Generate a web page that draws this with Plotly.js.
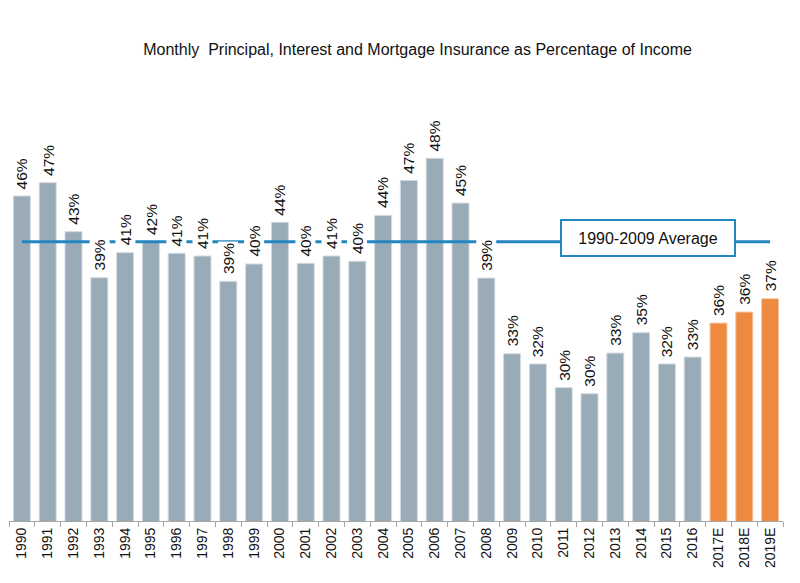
<!DOCTYPE html>
<html>
<head>
<meta charset="utf-8">
<script src="https://cdn.plot.ly/plotly-3.0.1.min.js"></script>
<style>html,body{margin:0;padding:0;background:#fff;}#chart{width:800px;height:583px;}</style>
</head>
<body>
<div id="chart"></div>
<script>
var categories = ["1990","1991","1992","1993","1994","1995","1996","1997","1998","1999",
  "2000","2001","2002","2003","2004","2005","2006","2007","2008","2009",
  "2010","2011","2012","2013","2014","2015","2016","2017E","2018E","2019E"];
var values = [45.35,46.39,42.57,38.98,40.93,41.79,40.88,40.67,38.70,40.05,
  43.30,40.10,40.67,40.26,43.84,46.57,48.29,44.80,38.95,33.05,
  32.25,30.40,29.93,33.10,34.69,32.25,32.79,35.44,36.30,37.34];
var labels = ["46%","47%","43%","39%","41%","42%","41%","41%","39%","40%",
  "44%","40%","41%","40%","44%","47%","48%","45%","39%","33%",
  "32%","30%","30%","33%","35%","32%","33%","36%","36%","37%"];
var estimate = [false,false,false,false,false,false,false,false,false,false,
  false,false,false,false,false,false,false,false,false,false,
  false,false,false,false,false,false,false,true,true,true];
var averageValue = 41.79;
var averageLabel = "1990-2009 Average";
var titleText = "Monthly&nbsp; Principal, Interest and Mortgage Insurance as Percentage of Income";

var grey = "#9aabb8", orange = "#ee8a40", blue = "#2386c0";
var font = "Arial, 'Liberation Sans', sans-serif";

var bars = {
  type: "bar",
  x: categories,
  y: values,
  marker: {
    color: estimate.map(function(e){ return e ? orange : grey; }),
    line: {color: estimate.map(function(e){ return e ? "#f6c9a6" : "#d3dbe1"; }), width: 1}
  },
  hoverinfo: "skip"
};
var avgLine = {
  type: "scatter",
  mode: "lines",
  x: [categories[0], categories[categories.length - 1]],
  y: [averageValue, averageValue],
  line: {color: blue, width: 3},
  hoverinfo: "skip"
};

var annotations = categories.map(function(c, i){
  return {
    x: i, y: values[i], xref: "x", yref: "y",
    text: labels[i], showarrow: false, textangle: -90,
    xanchor: "center", yanchor: "bottom", yshift: 5,
    bgcolor: "#ffffff", borderpad: 1,
    font: {family: font, size: 15.5, color: "#111"}
  };
});
annotations.push({
  x: 24.27, y: averageValue, xref: "x", yref: "y",
  text: averageLabel, showarrow: false,
  xanchor: "center", yanchor: "middle", yshift: 4,
  width: 172, height: 34, bgcolor: "#ffffff",
  bordercolor: blue, borderwidth: 2, borderpad: 0,
  font: {family: font, size: 16, color: "#111"}
});

var layout = {
  width: 800, height: 583,
  margin: {l: 9, r: 17, t: 100, b: 62},
  paper_bgcolor: "#ffffff", plot_bgcolor: "#ffffff",
  showlegend: false,
  bargap: 0.34,
  title: {text: titleText, x: 0.522, xanchor: "center", y: 0.915, yanchor: "middle",
          font: {family: font, size: 16, color: "#111"}},
  xaxis: {
    type: "category", range: [-0.5, categories.length - 0.5],
    showline: true, linecolor: "#a6a6a6", linewidth: 1,
    ticks: "outside", tickson: "boundaries", ticklen: 5, tickcolor: "#a6a6a6",
    tickangle: -90, tickfont: {family: font, size: 14, color: "#111"},
    showgrid: false, zeroline: false, fixedrange: true
  },
  yaxis: {
    range: [20, 52.84], visible: false, showgrid: false, zeroline: false, fixedrange: true
  },
  annotations: annotations
};

Plotly.newPlot("chart", [bars, avgLine], layout, {displayModeBar: false, staticPlot: true});
</script>
</body>
</html>
